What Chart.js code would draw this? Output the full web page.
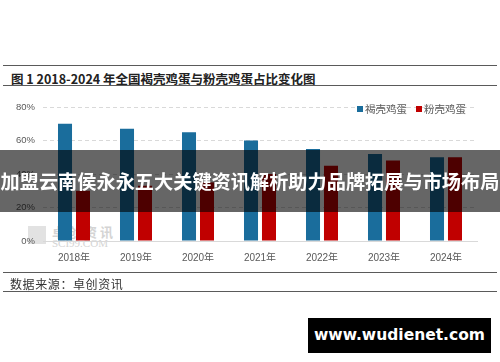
<!DOCTYPE html>
<html>
<head>
<meta charset="utf-8">
<script src="https://cdn.jsdelivr.net/npm/chart.js@4"></script>
<style>
  body { margin: 0; background: #fff; }
  #wrap { position: relative; width: 500px; height: 362px; overflow: hidden; background: #fff;
    font-family: "Noto Sans CJK SC", "Liberation Sans", sans-serif; }
  .rule { position: absolute; left: 3px; width: 494px; height: 0; border-top: 1.5px solid #5a5a5a; }
  #title { position: absolute; left: 11px; top: 69px; font-size: 12.5px; font-weight: bold; color: #222; white-space: nowrap; }
  #source { position: absolute; left: 10px; top: 275px; font-size: 12px; letter-spacing: 0.6px; color: #333; white-space: nowrap; }
  #mark { position: absolute; left: 28px; top: 225px; color: #d4d4d4; line-height: 1; }
  #mark .a { font-size: 13px; font-weight: bold; letter-spacing: 3px; padding-left: 24px; }
  #mark .b { font-family: "Liberation Serif", serif; font-size: 11px; padding-left: 24px; }
  #mark .sq { position: absolute; left: 0; top: 1px; width: 18px; height: 18px; background: #e2e2e2; }
  #legend { position: absolute; left: 357px; top: 101px; font-size: 10.5px; color: #595959; white-space: nowrap; }
  #legend span.k { display: inline-block; width: 6px; height: 6px; margin-right: 2px; vertical-align: 1px; }
  #legend span.t { margin-right: 9px; }
  canvas { position: absolute; left: 0; top: 0; }
  #banner { position: absolute; left: 0; top: 150px; width: 500px; height: 62px; background: rgba(0,0,0,0.6);
    color: #fff; font-size: 19.2px; font-weight: bold; text-align: center; line-height: 62px; white-space: nowrap; }
  #site { position: absolute; left: 308px; top: 318px; width: 183px; height: 35px; background: #000; color: #fff;
    font-family: "DejaVu Sans", sans-serif; font-weight: bold; font-size: 15.5px; line-height: 35px; text-align: center; }
</style>
</head>
<body>
<div id="wrap">
  <div class="rule" style="top:65px"></div>
  <div id="title">图 1 2018-2024 年全国褐壳鸡蛋与粉壳鸡蛋占比变化图</div>
  <div class="rule" style="top:85px"></div>
  <div id="mark"><div class="sq"></div><div class="a">卓创资讯</div><div class="b">SCI99.COM</div></div>
  <canvas id="myChart" width="500" height="362"></canvas>
  <div id="legend"></div>
  <div id="banner">加盟云南侯永永五大关键资讯解析助力品牌拓展与市场布局</div>
  <div class="rule" style="top:272px"></div>
  <div id="source">数据来源：卓创资讯</div>
  <div class="rule" style="top:291px"></div>
  <div id="site">www.wudienet.com</div>
</div>
<script>
var years = ['2018年', '2019年', '2020年', '2021年', '2022年', '2023年', '2024年'];
var seriesNames = ['褐壳鸡蛋', '粉壳鸡蛋'];
var brown = [70, 67, 65, 60, 55, 52, 50];
var pink = [30, 33, 35, 40, 45, 48, 50];
var yTicks = [0, 20, 40, 60, 80];
var colors = ['#1a6d9c', '#c00000'];

// legend drawn as html
var legend = document.getElementById('legend');
legend.innerHTML = seriesNames.map(function(name, i){
    return '<span class="k" style="background:' + colors[i] + '"></span><span class="t">' + name + '</span>';
}).join('');

var ctx = document.getElementById('myChart').getContext('2d');
var myChart = new Chart(ctx, {
    type: 'bar',
    data: {
        labels: years,
        datasets: [{
            label: seriesNames[0],
            data: brown,
            backgroundColor: colors[0],
            categoryPercentage: 0.58,
            barPercentage: 0.78
        }, {
            label: seriesNames[1],
            data: pink,
            backgroundColor: colors[1],
            categoryPercentage: 0.58,
            barPercentage: 0.78
        }]
    },
    options: {
        responsive: false,
        animation: false,
        layout: { padding: { left: 0, right: 23, top: 107, bottom: 101 } },
        plugins: { legend: { display: false }, tooltip: { enabled: false } },
        scales: {
            x: {
                grid: { display: false },
                border: { display: true, color: '#d9d9d9', width: 1 },
                ticks: { color: '#595959', font: { size: 10, family: 'Liberation Sans, Noto Sans CJK SC' }, padding: 3 },
                afterFit: function(scale){ scale.height = 20; }
            },
            y: {
                min: 0,
                max: 80,
                afterBuildTicks: function(scale){
                    scale.ticks = yTicks.map(function(v){ return { value: v }; });
                },
                grid: {
                    color: function(c){ return c.tick && c.tick.value === 0 ? 'rgba(0,0,0,0)' : '#d9d9d9'; },
                    drawTicks: false
                },
                border: { display: false, dash: [4, 3] },
                ticks: {
                    color: '#595959',
                    font: { size: 9.5, family: 'Liberation Sans' },
                    padding: 8,
                    callback: function(v){ return v + '%'; }
                },
                afterFit: function(scale){ scale.width = 43; }
            }
        }
    }
});
</script>
</body>
</html>
